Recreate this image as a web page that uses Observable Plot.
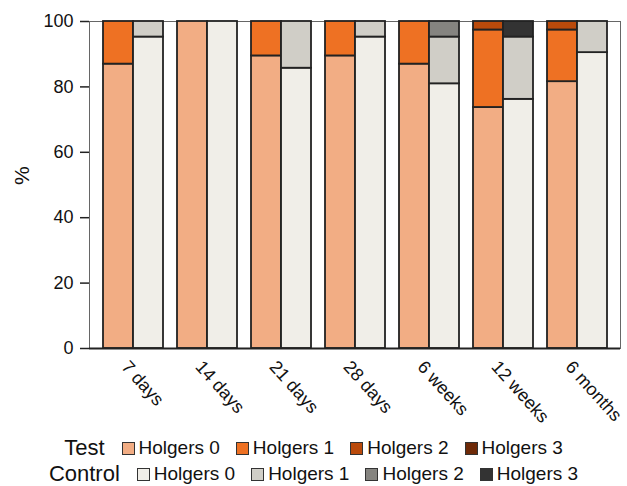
<!DOCTYPE html>
<html>
<head>
<meta charset="utf-8">
<script src="https://cdn.jsdelivr.net/npm/d3@7"></script>
<script src="https://cdn.jsdelivr.net/npm/@observablehq/plot@0.6"></script>
<style>
  html, body { margin: 0; padding: 0; background: #fff; }
  body { width: 627px; font-family: "Liberation Sans", Arial, sans-serif; color: #111; }
  #legend { margin-top: 10px; }
  .row { display: flex; justify-content: center; align-items: center; height: 26px; }
  .grp { font-size: 22px; margin-right: 17px; }
  .item { display: flex; align-items: center; font-size: 19px; margin-right: 16px; }
  .item:last-child { margin-right: 0; }
  .sw { width: 11px; height: 11px; border: 1px solid #333; margin-right: 4px; }
</style>
</head>
<body>
<div id="chart"></div>
<div id="legend"></div>
<script>
const timepoints = ["7 days", "14 days", "21 days", "28 days", "6 weeks", "12 weeks", "6 months"];
const levels = ["Holgers 0", "Holgers 1", "Holgers 2", "Holgers 3"];
const groups = ["Test", "Control"];
const yTicks = [0, 20, 40, 60, 80, 100];
const yLabel = "%";

const testH0 = [86.96, 100, 89.47, 89.47, 86.96, 73.7, 81.6];
const testH1 = [13.04, 0, 10.53, 10.53, 13.04, 23.7, 15.8];
const testH2 = [0, 0, 0, 0, 0, 2.6, 2.6];
const testH3 = [0, 0, 0, 0, 0, 0, 0];

const controlH0 = [95.24, 100, 85.71, 95.24, 80.95, 76.19, 90.48];
const controlH1 = [4.76, 0, 14.29, 4.76, 14.29, 19.05, 9.52];
const controlH2 = [0, 0, 0, 0, 4.76, 0, 0];
const controlH3 = [0, 0, 0, 0, 0, 4.76, 0];

const testColors = ["#F2AD84", "#EE7123", "#BA4A0B", "#6E2A08"];
const controlColors = ["#F0EEE8", "#D0CEC7", "#858480", "#333333"];

function longData(group, series) {
  const out = [];
  timepoints.forEach((t, i) => {
    series.forEach((s, j) => {
      out.push({time: t, level: levels[j], key: group + " " + levels[j], value: s[i]});
    });
  });
  return out.filter(d => d.value > 0);
}

const testData = longData("Test", [testH0, testH1, testH2, testH3]);
const controlData = longData("Control", [controlH0, controlH1, controlH2, controlH3]);

const keys = [...levels.map(l => "Test " + l), ...levels.map(l => "Control " + l)];
const colors = [...testColors, ...controlColors];

const W = 627, H = 425, mL = 89, mR = 7, mT = 21, mB = 77;
const padIn = 0.193, padOut = 0.165;
const band = d3.scaleBand(timepoints, [mL, W - mR]).paddingInner(padIn).paddingOuter(padOut);
const half = band.bandwidth() / 2;

const plot = Plot.plot({
  width: W, height: H,
  marginLeft: mL, marginRight: mR, marginTop: mT, marginBottom: mB,
  style: {fontFamily: "'Liberation Sans', Arial, sans-serif", fontSize: "18px", color: "#111", background: "white", overflow: "visible"},
  x: {domain: timepoints, paddingInner: padIn, paddingOuter: padOut, axis: null},
  y: {domain: [0, 100], ticks: yTicks, tickSize: 9, tickPadding: 7, label: null, line: true},
  color: {domain: keys, range: colors},
  marks: [
    Plot.frame({stroke: "#666", strokeWidth: 1}),
    Plot.barY(testData, Plot.stackY({x: "time", y: "value", fill: "key", stroke: "#222", strokeWidth: 1.8, insetRight: half})),
    Plot.barY(controlData, Plot.stackY({x: "time", y: "value", fill: "key", stroke: "#222", strokeWidth: 1.8, insetLeft: half})),
    Plot.ruleY([0], {stroke: "#222", strokeWidth: 2}),
    Plot.text(timepoints, {x: d => d, frameAnchor: "bottom", rotate: 48, textAnchor: "start", dx: -13, dy: 19, fontSize: 18, fill: "#111"}),
    Plot.text([yLabel], {frameAnchor: "left", rotate: -90, dx: -67, fontSize: 21, fill: "#111"})
  ]
});
document.getElementById("chart").appendChild(plot);

d3.select(plot).selectAll('[aria-label^="y-axis"] path, [aria-label^="y-axis"] line').attr("stroke", "#222").attr("stroke-width", 1.5);

// legend
const legend = d3.select("#legend");
groups.forEach((g, gi) => {
  const row = legend.append("div").attr("class", "row");
  row.append("span").attr("class", "grp").text(g);
  const cols = gi === 0 ? testColors : controlColors;
  levels.forEach((l, j) => {
    const it = row.append("span").attr("class", "item");
    it.append("span").attr("class", "sw").style("background", cols[j]);
    it.append("span").text(l);
  });
});
</script>
</body>
</html>
